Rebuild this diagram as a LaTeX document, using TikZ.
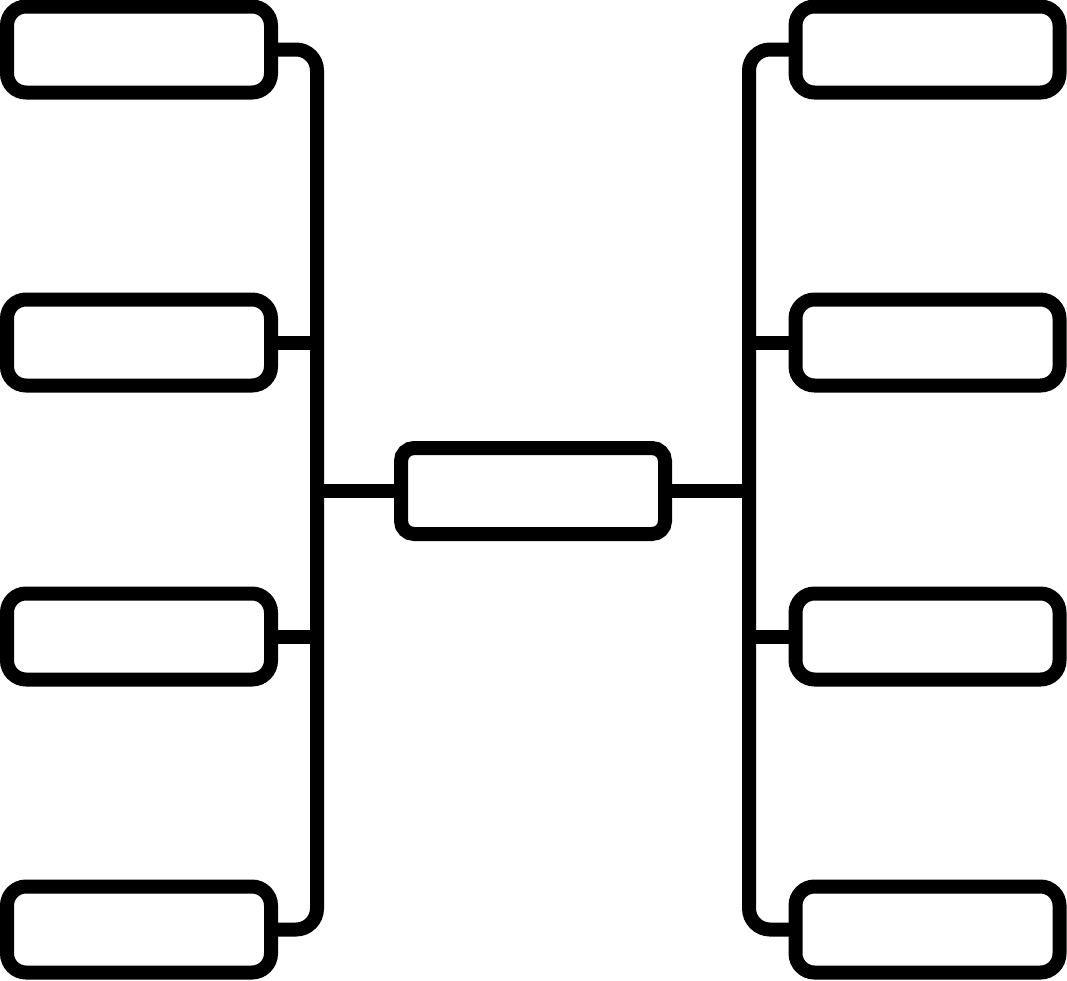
\documentclass[tikz,border=0pt]{standalone}
\begin{document}
\begin{tikzpicture}[x=1pt,y=-1pt,
  box/.style={draw=black,line width=14pt,rectangle,rounded corners=19pt,minimum width=264pt,minimum height=86pt,inner sep=0pt,outer sep=0pt},
  cbox/.style={box,rounded corners=13pt},
  conn/.style={draw=black,line width=14pt,line cap=butt}]
\useasboundingbox (0,0) rectangle (1067,980);
% left column
\node[box] (L1) at (139,49.5) {};
\node[box] (L2) at (139,342.5) {};
\node[box] (L3) at (139,636.5) {};
\node[box] (L4) at (139,929.5) {};
% right column
\node[box] (R1) at (927.5,49.5) {};
\node[box] (R2) at (927.5,342.5) {};
\node[box] (R3) at (927.5,636.5) {};
\node[box] (R4) at (927.5,929.5) {};
% center
\node[cbox] (C) at (533,491) {};
% vertical lines
\coordinate (LT) at (317,49.5);
\coordinate (LB) at (317,929.5);
\coordinate (RT) at (749,49.5);
\coordinate (RB) at (749,929.5);
\draw[conn,rounded corners=21pt] (L1.east) -- (LT) -- (LB) -- (L4.east);
\draw[conn,rounded corners=21pt] (R1.west) -- (RT) -- (RB) -- (R4.west);
\draw[conn] (L2.east) -- (L2.east -| LT);
\draw[conn] (L3.east) -- (L3.east -| LT);
\draw[conn] (R2.west) -- (R2.west -| RT);
\draw[conn] (R3.west) -- (R3.west -| RT);
\draw[conn] (C.west) -- (C.west -| LT);
\draw[conn] (C.east) -- (C.east -| RT);
\end{tikzpicture}
\end{document}
